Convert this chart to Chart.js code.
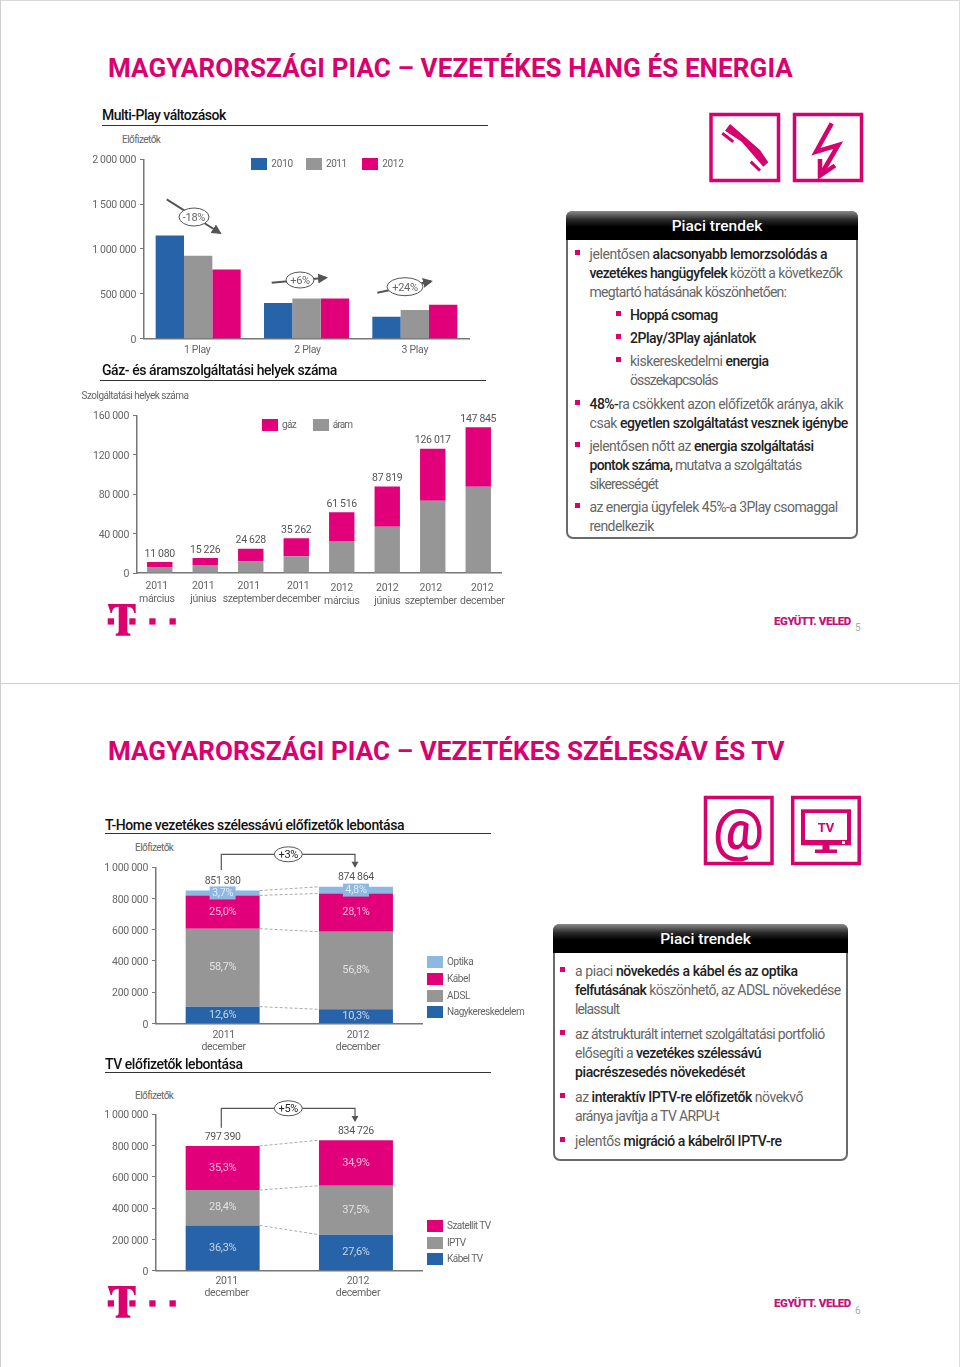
<!DOCTYPE html>
<html lang="hu">
<head>
<meta charset="utf-8">
<title>Magyarországi piac</title>
<script src="https://cdn.jsdelivr.net/npm/chart.js@4"></script>
<style>
    html, body { margin: 0; padding: 0; background: #fff; }
    #page { position: relative; width: 960px; height: 1367px; overflow: hidden; font-family: Roboto, sans-serif; color: #666; }
    #page canvas { position: absolute; }
    #page svg { position: absolute; left: 0; top: 0; pointer-events: none; }
    .t { position: absolute; white-space: pre; line-height: 1; }
    .t b { color: #222; font-weight: 500; }
    .title { color: #DC006E; font-size: 26px; font-weight: 700; }
    .sect { color: #111; font-size: 14px; font-weight: 500; }
    .rule { position: absolute; height: 1.5px; background: #333; }
    .small { font-size: 10px; color: #666; }
    .slogan { font-size: 11.5px; font-weight: 900; color: #C4107F; }
    .swatch { position: absolute; width: 16px; height: 12px; }
    .panel { position: absolute; box-sizing: border-box; border: 2px solid #6a6a6a; border-radius: 7px; background: #fff; }
    .head { position: absolute; left: -2px; right: -2px; top: -2px; height: 29px; border-radius: 6px 6px 0 0; padding-left: 10px; box-sizing: border-box;
            background: linear-gradient(#8a8a8a 0%, #2a2a2a 30%, #000 55%, #000 100%); color: #fff;
            font-size: 15.5px; font-weight: 500; text-align: center; line-height: 31px; }
    .line { font-size: 14px; color: #666; }
    .dot { position: absolute; width: 5px; height: 5px; background: #DC006E; }
</style>
</head>
<body>
<div id="page"></div>
<script>
// multi-play chart
const multiCategories = ["1 Play", "2 Play", "3 Play"];
const multi2010 = [1150000, 397000, 245000];
const multi2011 = [924000, 449000, 319000];
const multi2012 = [771000, 449000, 378000];

// gas + power chart
const energyCategories = [["2011", "március"], ["2011", "június"], ["2011", "szeptember"], ["2011", "december"],
    ["2012", "március"], ["2012", "június"], ["2012", "szeptember"], ["2012", "december"]];
const energyPower = [5700, 8100, 11800, 16900, 32400, 46900, 73200, 87400];
const energyGas = [5380, 7126, 12828, 18362, 29116, 40919, 52817, 60445];
const energyTotals = ["11 080", "15 226", "24 628", "35 262", "61 516", "87 819", "126 017", "147 845"];

// broadband chart
const yearCategories = [["2011", "december"], ["2012", "december"]];
const bbWholesale = [107274, 90111];
const bbAdsl = [499760, 496923];
const bbCable = [212845, 245837];
const bbOptics = [31501, 41993];
const bbTotals = ["851 380", "874 864"];
const bbWholesalePct = ["12,6%", "10,3%"];
const bbAdslPct = ["58,7%", "56,8%"];
const bbCablePct = ["25,0%", "28,1%"];
const bbOpticsPct = ["3,7%", "4,8%"];

// tv chart
const tvCable = [289453, 230384];
const tvIptv = [226459, 313022];
const tvSat = [281479, 291320];
const tvTotals = ["797 390", "834 726"];
const tvCablePct = ["36,3%", "27,6%"];
const tvIptvPct = ["28,4%", "37,5%"];
const tvSatPct = ["35,3%", "34,9%"];

const BLUE = "#2763A8";
const GREY = "#969696";
const PINK = "#E2007A";
const SKY = "#8DB8E2";
const AXIS = "#777";
const FONT = "Roboto";

const page = document.getElementById("page");

// text helper, right is where the line should end so the width follows the slide
const addText = (cls, html, x, y, right) => {
    const el = document.createElement("div");
    el.className = "t " + cls;
    el.innerHTML = html;
    page.appendChild(el);
    el.style.left = x + "px";
    el.style.top = (y - el.offsetHeight / 2) + "px";
    if (right) {
        const n = el.textContent.length - 1;
        el.style.letterSpacing = ((right - x - el.offsetWidth) / n) + "px";
    }
    return el;
};
const addBox = (cls, x, y, w, color) => {
    const el = document.createElement("div");
    el.className = cls;
    el.style.left = x + "px";
    el.style.top = y + "px";
    if (w) el.style.width = w + "px";
    if (color) el.style.background = color;
    page.appendChild(el);
    return el;
};

const spaced = v => String(v).replace(/\B(?=(\d{3})+$)/g, " ");

// totals over the stacks, percents inside, dashed links between the two columns
const stackExtras = {
    id: "stackExtras",
    beforeDraw(chart, args, opts) {
        // the slide font is tighter than anything installed
        chart.ctx.letterSpacing = "-0.3px";
        if (opts.tickNudge) {
            chart.scales.x.getLabelItems().forEach((item, i) => {
                item.options.translation[0] += opts.tickNudge[i][0];
                item.options.translation[1] += opts.tickNudge[i][1];
            });
        }
    },
    afterDatasetsDraw(chart, args, opts) {
        const ctx = chart.ctx;
        const metas = chart.data.datasets.map((d, i) => chart.getDatasetMeta(i));
        ctx.save();
        ctx.textAlign = "center";
        ctx.textBaseline = "middle";

        if (opts.links) {
            ctx.strokeStyle = "#aaa";
            ctx.lineWidth = 1;
            ctx.setLineDash([3, 2]);
            metas.forEach(m => {
                const a = m.data[0], b = m.data[1];
                ctx.beginPath();
                ctx.moveTo(a.x + a.width / 2, a.y);
                ctx.lineTo(b.x - b.width / 2, b.y);
                ctx.stroke();
            });
            ctx.setLineDash([]);
        }

        chart.data.datasets.forEach((ds, i) => {
            if (!ds.pct) return;
            metas[i].data.forEach((bar, j) => {
                const midY = (bar.y + bar.base) / 2;
                ctx.font = "11px " + FONT;
                if (ds.boxed) {
                    ctx.fillStyle = SKY;
                    ctx.fillRect(bar.x - 13, midY - 6.5, 26, 13);
                }
                ctx.fillStyle = "rgba(255,255,255,0.72)";
                ctx.fillText(ds.pct[j], bar.x, midY);
            });
        });

        if (opts.totals) {
            const top = metas[metas.length - 1];
            ctx.font = "10.5px " + FONT;
            ctx.fillStyle = "#555";
            opts.totals.forEach((txt, j) => {
                ctx.fillText(txt, top.data[j].x, top.data[j].y - opts.gap);
            });
        }
        ctx.restore();
    }
};

// plot is the wanted box of the axes on the page
const makeChart = (plot, categories, datasets, cfg) => {
    const M = { left: 62, top: 10, right: 14, bottom: 38 };
    const cv = document.createElement("canvas");
    const w = Math.ceil(plot.right - plot.left + M.left + M.right);
    const h = Math.ceil(plot.bottom - plot.top + M.top + M.bottom);
    cv.width = w;
    cv.height = h;
    cv.style.left = (plot.left - M.left) + "px";
    cv.style.top = (plot.top - M.top) + "px";
    page.appendChild(cv);
    return new Chart(cv.getContext("2d"), {
        type: "bar",
        data: { labels: categories, datasets: datasets },
        plugins: [stackExtras],
        options: {
            responsive: false,
            animation: false,
            devicePixelRatio: 1,
            layout: { padding: { top: M.top, right: w - M.left - (plot.right - plot.left), left: 0, bottom: 0 } },
            datasets: { bar: { categoryPercentage: cfg.catPct, barPercentage: 1, borderWidth: 0 } },
            plugins: {
                legend: { display: false },
                tooltip: { enabled: false },
                stackExtras: { totals: cfg.totals, gap: cfg.gap, links: cfg.links, tickNudge: cfg.tickNudge }
            },
            scales: {
                x: {
                    stacked: cfg.stacked,
                    grid: { display: false, drawTicks: false },
                    border: { color: AXIS, width: 1.5 },
                    afterFit: s => { s.height = h - M.top - (plot.bottom - plot.top); },
                    ticks: { color: "#666", padding: cfg.tickPad, autoSkip: false, maxRotation: 0,
                        font: { family: FONT, size: 10.5, lineHeight: 1.17 } }
                },
                y: {
                    stacked: cfg.stacked,
                    min: 0,
                    max: cfg.max,
                    afterFit: s => { s.width = M.left; },
                    grid: { drawOnChartArea: false, drawTicks: true, tickLength: 4, color: AXIS },
                    border: { color: AXIS, width: 1.5 },
                    ticks: { stepSize: cfg.step, color: "#666", padding: 4, labelOffset: 1.5, callback: spaced,
                        font: { family: FONT, size: 10.5 } }
                }
            }
        }
    });
};

makeChart({ left: 144, top: 159.3, right: 469, bottom: 339 }, multiCategories, [
    { label: "2010", data: multi2010, backgroundColor: BLUE },
    { label: "2011", data: multi2011, backgroundColor: GREY },
    { label: "2012", data: multi2012, backgroundColor: PINK }
], { catPct: 0.785, stacked: false, max: 2000000, step: 500000, tickPad: 6,
    tickNudge: [[-1, 0], [1, 0], [0, 0]] });

makeChart({ left: 136.7, top: 415, right: 500.7, bottom: 573 }, energyCategories, [
    { label: "áram", data: energyPower, backgroundColor: GREY },
    { label: "gáz", data: energyGas, backgroundColor: PINK }
], { catPct: 0.558, stacked: true, max: 160000, step: 40000, tickPad: 7.5, totals: energyTotals, gap: 8,
    tickNudge: [[-3, 0], [-2, 0], [-2, 0], [2, 0], [0, 2], [0, 2], [-2, 2], [4, 2]] });

makeChart({ left: 155.7, top: 867.3, right: 422.3, bottom: 1023.7 }, yearCategories, [
    { label: "Nagykereskedelem", data: bbWholesale, backgroundColor: BLUE, pct: bbWholesalePct },
    { label: "ADSL", data: bbAdsl, backgroundColor: GREY, pct: bbAdslPct },
    { label: "Kábel", data: bbCable, backgroundColor: PINK, pct: bbCablePct },
    { label: "Optika", data: bbOptics, backgroundColor: SKY, pct: bbOpticsPct, boxed: true }
], { catPct: 0.555, stacked: true, max: 1000000, step: 200000, tickPad: 5.5, totals: bbTotals, gap: 9, links: true,
    tickNudge: [[1, 0], [2, 0]] });

makeChart({ left: 155.7, top: 1114.3, right: 422.3, bottom: 1271 }, yearCategories, [
    { label: "Kábel TV", data: tvCable, backgroundColor: BLUE, pct: tvCablePct },
    { label: "IPTV", data: tvIptv, backgroundColor: GREY, pct: tvIptvPct },
    { label: "Szatellit TV", data: tvSat, backgroundColor: PINK, pct: tvSatPct }
], { catPct: 0.555, stacked: true, max: 1000000, step: 200000, tickPad: 4.5, totals: tvTotals, gap: 9, links: true,
    tickNudge: [[4, 0], [2, 0]] });

// slide frame
addBox("rule", 0, 683, 960).style.cssText += "height:1px;background:#cfcfcf";
addBox("rule", 0, 0, 960).style.cssText += "height:1px;background:#d8d8d8";
addBox("rule", 0, 0, 1).style.cssText += "height:1367px;background:#cfcfcf";
addBox("rule", 959, 0, 1).style.cssText += "height:1367px;background:#dcdcdc";

// titles
addText("title", "MAGYARORSZÁGI PIAC – VEZETÉKES HANG ÉS ENERGIA", 108, 68, 793);
addText("title", "MAGYARORSZÁGI PIAC – VEZETÉKES SZÉLESSÁV ÉS TV", 108, 751, 785);

addText("sect", "Multi-Play változások", 102, 115, 226);
addBox("rule", 102, 124.5, 386);
addText("sect", "Gáz- és áramszolgáltatási helyek száma", 102, 370, 337);
addBox("rule", 100, 379.5, 386);
addText("sect", "T-Home vezetékes szélessávú előfizetők lebontása", 105, 825, 404);
addBox("rule", 105, 832.5, 386);
addText("sect", "TV előfizetők lebontása", 105, 1064, 243);
addBox("rule", 105, 1071.5, 386);

addText("small", "Előfizetők", 122, 140, 161);
addText("small", "Szolgáltatási helyek száma", 81.5, 396, 188.5);
addText("small", "Előfizetők", 135, 848, 174);
addText("small", "Előfizetők", 135, 1096, 174);

// legends
const addLegend = (items) => items.forEach(([name, color, sx, sy, right]) => {
    addBox("swatch", sx, sy, 0, color);
    addText("small", name, sx + 20, sy + 6, right);
});
addLegend([["2010", BLUE, 251.3, 158, 292.7], ["2011", GREY, 306, 158, 346.7], ["2012", PINK, 362.3, 158, 403.3]]);
addLegend([["gáz", PINK, 262, 418.5, 296.7], ["áram", GREY, 312.7, 418.5, 353.3]]);
addLegend([["Optika", SKY, 427, 956, 474], ["Kábel", PINK, 427, 973, 470.3], ["ADSL", GREY, 427, 989.7, 470],
    ["Nagykereskedelem", BLUE, 427, 1006, 525]]);
addLegend([["Szatellit TV", PINK, 427, 1220.3, 491], ["IPTV", GREY, 427, 1236.7, 465.7], ["Kábel TV", BLUE, 427, 1253, 483.3]]);

// trend panels
const addPanel = (x, y, r, b) => {
    const el = addBox("panel", x, y, r - x);
    el.style.height = (b - y) + "px";
    const head = document.createElement("div");
    head.className = "head";
    head.textContent = "Piaci trendek";
    el.appendChild(head);
};
addPanel(566, 211, 858, 539);
addPanel(553, 924, 848, 1161);

// [html, x, center y, right end, bullet x]
const trendLines = [
    ["jelentősen <b>alacsonyabb lemorzsolódás a</b>", 589.5, 254, 828, 575],
    ["<b>vezetékes hangügyfelek</b> között a következők", 589.5, 273, 843.3],
    ["megtartó hatásának köszönhetően:", 589.5, 292, 787],
    ["<b>Hoppá csomag</b>", 630, 315, 718.3, 616],
    ["<b>2Play/3Play ajánlatok</b>", 630, 338, 756.7, 616],
    ["kiskereskedelmi <b>energia</b>", 630, 361, 768.7, 616],
    ["összekapcsolás", 630, 380, 718.3],
    ["<b>48%-</b>ra csökkent azon előfizetők aránya, akik", 589.5, 404, 843.3, 575],
    ["csak <b>egyetlen szolgáltatást vesznek igénybe</b>", 589.5, 422.5, 848.7],
    ["jelentősen nőtt az <b>energia szolgáltatási</b>", 589.5, 446, 814, 575],
    ["<b>pontok száma,</b> mutatva a szolgáltatás", 589.5, 465, 802.7],
    ["sikerességét", 589.5, 484, 659],
    ["az energia ügyfelek 45%-a 3Play csomaggal", 589.5, 507, 838, 575],
    ["rendelkezik", 589.5, 526, 654],
    ["a piaci <b>növekedés a kábel és az optika</b>", 575, 971, 797.7, 560],
    ["<b>felfutásának</b> köszönhető, az ADSL növekedése", 575, 990, 841],
    ["lelassult", 575, 1009, 620],
    ["az átstrukturált internet szolgáltatási portfolió", 575, 1034, 825.7, 560],
    ["elősegíti a <b>vezetékes szélessávú</b>", 575, 1053, 761.7],
    ["<b>piacrészesedés növekedését</b>", 575, 1072, 745],
    ["az <b>interaktív IPTV-re előfizetők</b> növekvő", 575, 1097, 803.3, 560],
    ["aránya javítja a TV ARPU-t", 575, 1116, 720],
    ["jelentős <b>migráció a kábelről IPTV-re</b>", 575, 1141, 781.7, 560]
];
trendLines.forEach(([html, x, y, right, bullet]) => {
    addText("line", html, x, y, right);
    if (bullet) addBox("dot", bullet, y - 4);
});

// footers
[[621.7, 628, "5"], [1304, 1311, "6"]].forEach(([y, ny, num]) => {
    addText("slogan", "EGYÜTT. VELED", 774, y, 851);
    addText("small", num, 855, ny).style.color = "#aaa";
});

// annotations and icons on top of the charts
const bubble = (cx, cy, rx, ry, txt, color) =>
    `<ellipse cx="${cx}" cy="${cy}" rx="${rx}" ry="${ry}" fill="#fff" stroke="#555" stroke-width="1"/>` +
    `<text x="${cx}" y="${cy + 4}" text-anchor="middle" font-size="11" letter-spacing="-0.3" fill="${color}">${txt}</text>`;
const arrow = (x1, y1, x2, y2) =>
    `<line x1="${x1}" y1="${y1}" x2="${x2}" y2="${y2}" stroke="#555" stroke-width="2" marker-end="url(#head)"/>`;
const bracket = (x1, y1, yTop, x2, y2) =>
    `<path d="M${x1} ${y1}V${yTop}H${x2}V${y2}" fill="none" stroke="#555" stroke-width="1.2"/>` +
    `<path d="M${x2 - 3.5} ${y2 - 5}h7l-3.5 6z" fill="#555"/>`;
const tLogo = dy =>
    `<g transform="translate(0 ${dy})" fill="#DC006E">
      <path d="M107.7 604h28v9h-1.6c-.3-3.6-2.3-6-6.8-6.200v24c0 2 .8 2.800 3 3v2h-14.600v-2c2.200-.2 3-1 3-3v-24c-4.500 .2-6.500 2.600-6.800 6.200h-1.200z"/>
      <rect x="107.700" y="618.300" width="6.300" height="6.300"/><rect x="129.300" y="618.300" width="6.300" height="6.300"/>
      <rect x="149.300" y="618.300" width="6.300" height="6.300"/><rect x="169.500" y="618.300" width="6.300" height="6.300"/>
    </g>`;
const ICON = "#D6006F";

const svg = document.createElementNS("http://www.w3.org/2000/svg", "svg");
svg.setAttribute("width", 960);
svg.setAttribute("height", 1367);
svg.setAttribute("font-family", FONT);
svg.innerHTML = `
<defs><marker id="head" markerWidth="5" markerHeight="5" refX="4" refY="2.500" orient="auto" markerUnits="strokeWidth">
  <path d="M0 0L5 2.500L0 5z" fill="#555"/></marker></defs>
${arrow(166.7, 199.3, 220, 233)}${bubble(194, 217, 15, 9, "-18%", "#666")}
${arrow(271.7, 282.7, 326, 277.800)}${bubble(300, 280, 14, 8, "+6%", "#666")}
${arrow(377.3, 292.7, 431, 281.300)}${bubble(405, 286.7, 18, 9, "+24%", "#666")}
${bracket(221.3, 870, 854.3, 355, 866.7)}${bubble(288.3, 854.3, 14, 7.5, "+3%", "#222")}
${bracket(221.3, 1127.7, 1108.3, 355, 1121)}${bubble(288.3, 1108.3, 14, 7.5, "+5%", "#222")}
${tLogo(0)}${tLogo(682)}
<g fill="none" stroke="${ICON}" stroke-width="3.500">
  <rect x="711" y="114.500" width="67.500" height="66"/><rect x="794.500" y="114.500" width="67" height="66"/>
  <rect x="705.500" y="797.500" width="66.500" height="66"/><rect x="792.700" y="797.500" width="66.500" height="66"/>
  <path d="M722.300 133.300L733.300 141.700M750.700 161.700L760 170.700" stroke-width="3"/>
  <path d="M831.700 123.300L816 151.700L838.300 145L822.500 172" stroke-width="4.500"/>
  <path d="M820 159V175.500L835 165.500" stroke-width="4.500"/>
</g>
<path d="M730 124L760 150L768.300 162.300L763.300 166.700L741.700 141.700L725 130.700z" fill="${ICON}"/>
<text x="738.500" y="848.500" text-anchor="middle" font-size="57" font-weight="500" fill="${ICON}">@</text>
<rect x="801" y="809.300" width="50" height="36" fill="${ICON}"/>
<rect x="805" y="813" width="42" height="27" fill="#fff"/>
<rect x="842" y="841" width="3" height="3" fill="#fff"/>
<rect x="822.500" y="845" width="7" height="5" fill="${ICON}"/>
<rect x="815" y="849.500" width="22" height="3.500" fill="${ICON}"/>
<text x="826" y="831.500" text-anchor="middle" font-size="13" font-weight="700" fill="${ICON}">TV</text>`;
page.appendChild(svg);
</script>
</body>
</html>
